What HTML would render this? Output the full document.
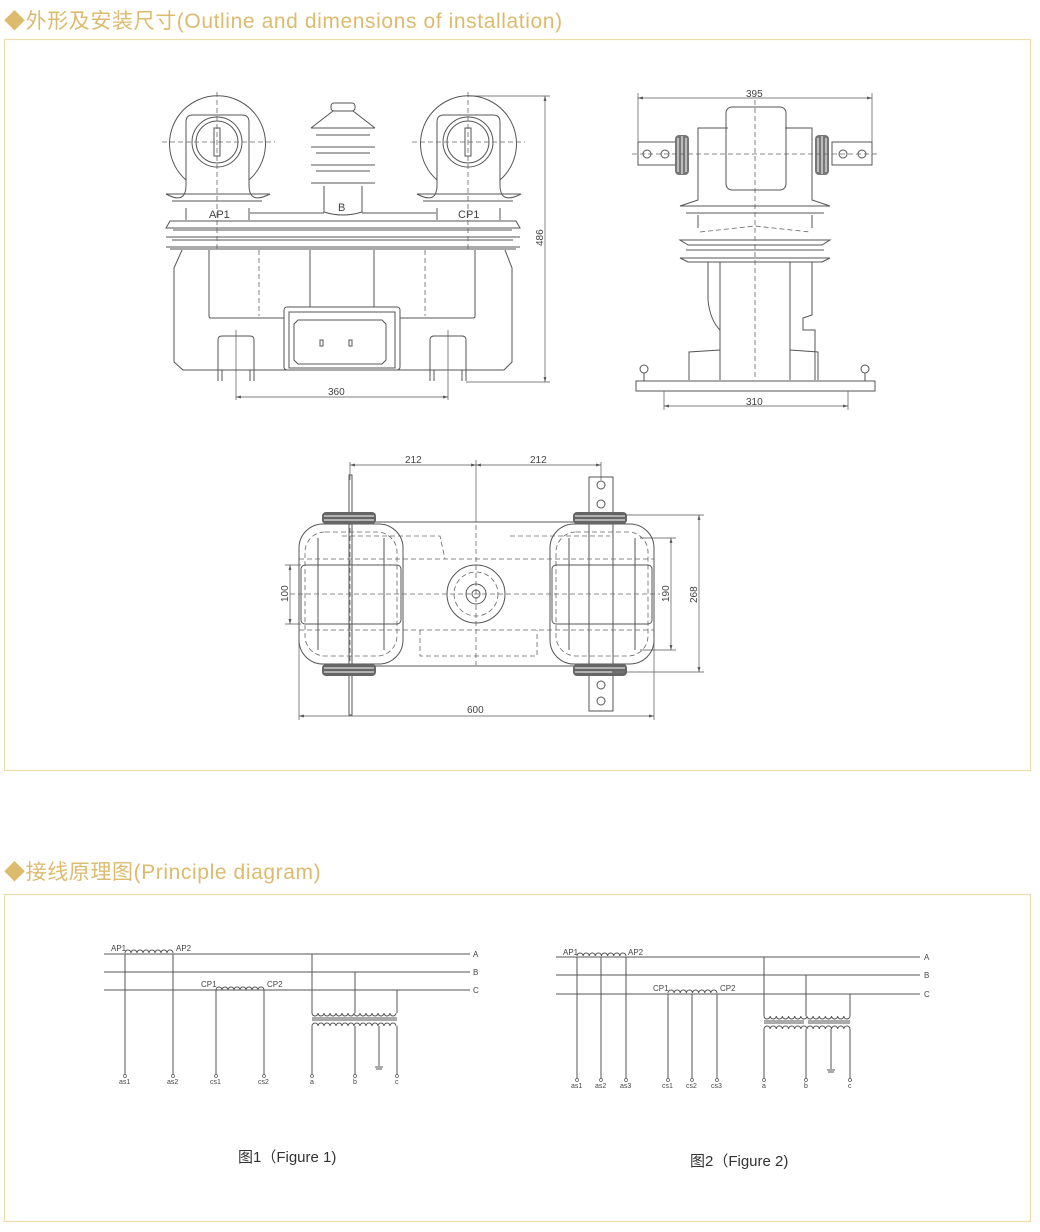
<!DOCTYPE html>
<html><head><meta charset="utf-8"><style>
html,body{margin:0;padding:0;background:#fff;width:1040px;height:1232px;overflow:hidden}
svg{display:block}
.g{fill:none;stroke:#555;stroke-width:1}
.d{fill:none;stroke:#666;stroke-width:.8;stroke-dasharray:5 3}
.dm{fill:none;stroke:#555;stroke-width:.7}
.t{font-family:"Liberation Sans",sans-serif;fill:#444}
.h{font-family:"Liberation Sans","Noto Sans CJK SC",sans-serif;fill:#dcbb6e;font-size:21px;letter-spacing:0.6px}
</style></head><body>
<svg width="1040" height="1232" viewBox="0 0 1040 1232" xmlns="http://www.w3.org/2000/svg">
<defs>
<marker id="ar" viewBox="0 0 10 10" refX="10" refY="5" markerWidth="7" markerHeight="7" orient="auto-start-reverse"><path d="M0,2 L10,5 L0,8z" fill="#555"/></marker>
</defs>
<!-- headers -->
<text x="4" y="28" class="h">◆外形及安装尺寸(Outline and dimensions of installation)</text>
<rect x="4.5" y="39.5" width="1026" height="731" fill="none" stroke="#efdcaa" stroke-width="1.2"/>
<text x="4" y="879" class="h">◆接线原理图(Principle diagram)</text>
<rect x="4.5" y="894.5" width="1026" height="327" fill="none" stroke="#efdcaa" stroke-width="1.2"/>

<!-- ===== FRONT VIEW ===== -->
<g>
<path class="g" d="M186 186 L186 122 Q186 115 193 115 L242 115 Q249 115 249 122 L249 186"/>
<path class="g" d="M186 180 A48 48 0 1 1 249 180"/>
<circle class="g" cx="217" cy="142" r="25"/><circle class="g" cx="217" cy="142" r="21"/>
<rect class="g" x="214" y="128" width="6" height="28"/>
<path class="g" d="M186 185 Q186 205 166 194 L270 194 Q249 205 249 185"/>
<path class="g" d="M172 201 L262 201 M186 208 L186 220 M249 208 L249 220"/>
<path class="g" d="M437 186 L437 122 Q437 115 444 115 L493 115 Q500 115 500 122 L500 186"/>
<path class="g" d="M437 180 A48 48 0 1 1 500 180"/>
<circle class="g" cx="468" cy="142" r="25"/><circle class="g" cx="468" cy="142" r="21"/>
<rect class="g" x="465" y="128" width="6" height="28"/>
<path class="g" d="M437 185 Q437 205 417 194 L521 194 Q500 205 500 185"/>
<path class="g" d="M423 201 L513 201 M437 208 L437 220 M500 208 L500 220"/>
<rect class="g" x="331" y="103" width="24" height="8" rx="3"/>
<path class="g" d="M311 128 L375 128 M316 135 L370 135 M311 147 L375 147 M316 153 L370 153 M311 165 L375 165 M316 171 L370 171 M311 183 L375 183"/>
<path class="g" d="M333 111 L311 128 M353 111 L375 128 M324 186 L324 212 Q343 218 362 212 L362 186"/>
<path class="g" d="M250 213 L324 213 M362 213 L436 213"/>
<text x="338" y="211" class="t" font-size="11">B</text>
<text x="209" y="218" class="t" font-size="11">AP1</text>
<text x="458" y="218" class="t" font-size="11">CP1</text>
<path class="g" d="M170 221 L516 221 L520 228 L166 228 Z"/>
<path class="g" d="M173 230 L512 230 M166 237 L520 237 M172 240 L513 240 M166 247 L520 247 M170 249 L516 249"/>
<path class="g" d="M182 250 L174 268 L174 362 L183 370 L504 370 L512 362 L512 268 L505 250"/>
<path class="g" d="M209 250 L209 316 Q209 318 211 318 L284 318 M400 318 L473 318 Q475 318 475 316 L475 250"/>
<path class="g" d="M310 250 L310 307 M374 250 L374 307"/>
<path class="d" d="M259 250 L259 316 M425 250 L425 316 M217 92 L217 250 M468 92 L468 250 M162 142 L275 142 M412 142 L525 142"/>
<rect class="g" x="284" y="307" width="116" height="63" rx="3"/>
<rect class="g" x="289" y="312" width="106" height="56"/>
<path class="g" d="M298 320 L382 320 L386 324 L386 360 L382 364 L298 364 L294 360 L294 324 Z"/>
<rect class="g" x="320" y="340" width="3" height="6"/><rect class="g" x="349" y="340" width="3" height="6"/>
<path class="g" d="M218 381 L218 340 Q218 336 222 336 L250 336 Q254 336 254 340 L254 381 M222 370 L222 381 M250 370 L250 381"/>
<path class="g" d="M430 381 L430 340 Q430 336 434 336 L462 336 Q466 336 466 340 L466 381 M434 370 L434 381 M462 370 L462 381"/>
<path class="dm" d="M236 330 L236 400 M448 330 L448 400"/>
<line class="dm" x1="236" y1="397" x2="448" y2="397" marker-start="url(#ar)" marker-end="url(#ar)"/>
<text x="328" y="395" class="t" font-size="10">360</text>
<path class="dm" d="M468 96 L550 96 M466 382 L550 382"/>
<line class="dm" x1="545" y1="96" x2="545" y2="382" marker-start="url(#ar)" marker-end="url(#ar)"/>
<text x="0" y="0" class="t" font-size="10" transform="translate(543,246) rotate(-90)">486</text>
</g>

<!-- ===== SIDE VIEW ===== -->
<g>
<path class="dm" d="M638 93 L638 165 M872 93 L872 165"/>
<line class="dm" x1="638" y1="98" x2="872" y2="98" marker-start="url(#ar)" marker-end="url(#ar)"/>
<text x="746" y="97" class="t" font-size="10">395</text>
<rect class="g" x="638" y="142" width="40" height="23"/><rect class="g" x="832" y="142" width="40" height="23"/>
<circle class="g" cx="647" cy="154" r="4"/><circle class="g" cx="665" cy="154" r="4"/>
<circle class="g" cx="843" cy="154" r="4"/><circle class="g" cx="862" cy="154" r="4"/>
<g fill="#777"><rect x="675" y="135" width="14" height="40" rx="4"/><rect x="815" y="135" width="14" height="40" rx="4"/></g>
<g stroke="#fff" stroke-width="1"><path d="M678 138 L678 172 M682 136 L682 174 M686 138 L686 172 M818 138 L818 172 M822 136 L822 174 M826 138 L826 172"/></g>
<path class="g" d="M698 175 L698 128 L728 128 M785 128 L812 128 L812 175"/>
<rect class="g" x="726" y="107" width="60" height="83" rx="6"/>
<path class="g" d="M698 175 L698 200 L680 206 L830 206 L812 200 L812 175"/>
<path class="g" d="M686 213 L824 213 M698 215 L698 228 M812 215 L812 228 M680 240 L830 240 L822 245 L688 245 Z M686 250 L824 250 M680 258 L830 258 L822 262 L688 262 Z"/>
<path class="d" d="M700 232 L755 226 L810 232"/>
<path class="g" d="M708 262 L708 300 Q710 320 720 330 L720 380 M790 262 L790 380 M720 262 L720 380 M812 262 L812 315 L803 318 L803 330 L815 330 L815 380 M720 350 L689 352 L689 380 M790 350 L818 352 L818 380"/>
<rect class="g" x="636" y="381" width="239" height="10"/>
<circle class="g" cx="644" cy="369" r="4"/><circle class="g" cx="865" cy="369" r="4"/>
<path class="g" d="M644 373 L644 381 M865 373 L865 381"/>
<path class="d" d="M755 100 L755 380 M632 154 L878 154"/>
<path class="dm" d="M664 391 L664 410 M848 391 L848 410"/>
<line class="dm" x1="664" y1="406" x2="848" y2="406" marker-start="url(#ar)" marker-end="url(#ar)"/>
<text x="746" y="405" class="t" font-size="10">310</text>
</g>

<!-- ===== TOP VIEW ===== -->
<g>
<path class="dm" d="M350 462 L350 480 M601 462 L601 480 M476 460 L476 522"/>
<line class="dm" x1="350" y1="465" x2="476" y2="465" marker-start="url(#ar)" marker-end="url(#ar)"/>
<line class="dm" x1="476" y1="465" x2="601" y2="465" marker-start="url(#ar)" marker-end="url(#ar)"/>
<text x="405" y="463" class="t" font-size="10">212</text><text x="530" y="463" class="t" font-size="10">212</text>
<rect class="g" x="349" y="475" width="3" height="240"/>
<rect class="g" x="589" y="477" width="24" height="234"/>
<circle class="g" cx="601" cy="485" r="4"/><circle class="g" cx="601" cy="504" r="4"/>
<circle class="g" cx="601" cy="685" r="4"/><circle class="g" cx="601" cy="701" r="4"/>
<path class="g" d="M340 522 L612 522 M340 666 L612 666"/>
<rect class="g" x="299" y="524" width="104" height="140" rx="24"/>
<rect class="g" x="550" y="524" width="104" height="140" rx="24"/>
<rect class="d" x="305" y="532" width="92" height="124" rx="20"/>
<rect class="d" x="556" y="532" width="92" height="124" rx="20"/>
<rect class="g" x="301" y="565" width="100" height="59" rx="4"/>
<rect class="g" x="552" y="565" width="100" height="59" rx="4"/>
<path class="g" d="M318 538 L318 650 M384 538 L384 650 M569 538 L569 650 M635 538 L635 650"/>
<path class="d" d="M299 559 L654 559 M299 630 L654 630 M342 536 L440 536 L445 559 M510 536 L610 536 M420 630 L420 656 L537 656 L537 630 M290 594 L660 594 M476 525 L476 665 M350 520 L350 670"/>
<g fill="#666"><rect x="322" y="512" width="54" height="12" rx="4"/><rect x="322" y="664" width="54" height="12" rx="4"/><rect x="573" y="512" width="54" height="12" rx="4"/><rect x="573" y="664" width="54" height="12" rx="4"/></g>
<g stroke="#fff" stroke-width="1"><path d="M324 516 L374 516 M324 520 L374 520 M324 668 L374 668 M324 672 L374 672 M575 516 L625 516 M575 520 L625 520 M575 668 L625 668 M575 672 L625 672"/></g>
<circle class="g" cx="476" cy="594" r="29"/><circle class="d" cx="476" cy="594" r="22"/>
<circle class="g" cx="476" cy="594" r="10"/><circle class="g" cx="476" cy="594" r="4"/>
<path class="dm" d="M285 565 L301 565 M285 624 L301 624"/>
<line class="dm" x1="290" y1="565" x2="290" y2="624" marker-start="url(#ar)" marker-end="url(#ar)"/>
<text class="t" font-size="10" transform="translate(288,602) rotate(-90)">100</text>
<path class="dm" d="M640 538 L676 538 M640 650 L676 650 M612 515 L704 515 M612 672 L704 672"/>
<line class="dm" x1="671" y1="538" x2="671" y2="650" marker-start="url(#ar)" marker-end="url(#ar)"/>
<line class="dm" x1="699" y1="515" x2="699" y2="672" marker-start="url(#ar)" marker-end="url(#ar)"/>
<text class="t" font-size="10" transform="translate(669,602) rotate(-90)">190</text>
<text class="t" font-size="10" transform="translate(697,603) rotate(-90)">268</text>
<path class="dm" d="M299 600 L299 720 M654 600 L654 720"/>
<line class="dm" x1="299" y1="716" x2="654" y2="716" marker-start="url(#ar)" marker-end="url(#ar)"/>
<text x="467" y="713" class="t" font-size="10">600</text>
</g>

<!-- ===== FIGURE 1 ===== -->
<g class="t" font-size="8">
<path class="g" stroke="#666" d="M104 954 L470 954 M104 972 L470 972 M104 990 L470 990"/>
<text x="473" y="957">A</text><text x="473" y="975">B</text><text x="473" y="993">C</text>
<path class="g" d="M125 954 L125 1075 M173 954 L173 1075 M216 990 L216 1075 M264 990 L264 1075"/>
<path class="g" d="M125 953 a3 3 0 0 1 6 0 a3 3 0 0 1 6 0 a3 3 0 0 1 6 0 a3 3 0 0 1 6 0 a3 3 0 0 1 6 0 a3 3 0 0 1 6 0 a3 3 0 0 1 6 0 a3 3 0 0 1 6 0"/>
<path class="g" d="M216 990 a3 3 0 0 1 6 0 a3 3 0 0 1 6 0 a3 3 0 0 1 6 0 a3 3 0 0 1 6 0 a3 3 0 0 1 6 0 a3 3 0 0 1 6 0 a3 3 0 0 1 6 0 a3 3 0 0 1 6 0"/>
<text x="111" y="951">AP1</text><text x="176" y="951">AP2</text><text x="201" y="987">CP1</text><text x="267" y="987">CP2</text>
<path class="g" d="M312 954 L312 1013 M355 972 L355 1013 M397 990 L397 1013"/>
<path class="g" d="M312 1013 a3 3 0 0 0 6 0 a3 3 0 0 0 6 0 a3 3 0 0 0 6 0 a3 3 0 0 0 6 0 a3 3 0 0 0 6 0 a3 3 0 0 0 6 0 a3 3 0 0 0 6 0 a3 3 0 0 0 6 0 a3 3 0 0 0 6 0 a3 3 0 0 0 6 0 a3 3 0 0 0 6 0 a3 3 0 0 0 6 0 a3 3 0 0 0 6 0 a3 3 0 0 0 6 0"/>
<path class="g" d="M312 1018 L397 1018 M312 1020 L397 1020"/>
<path class="g" d="M312 1026 a3 3 0 0 1 6 0 a3 3 0 0 1 6 0 a3 3 0 0 1 6 0 a3 3 0 0 1 6 0 a3 3 0 0 1 6 0 a3 3 0 0 1 6 0 a3 3 0 0 1 6 0 a3 3 0 0 1 6 0 a3 3 0 0 1 6 0 a3 3 0 0 1 6 0 a3 3 0 0 1 6 0 a3 3 0 0 1 6 0 a3 3 0 0 1 6 0 a3 3 0 0 1 6 0"/>
<path class="g" d="M312 1026 L312 1075 M355 1026 L355 1075 M397 1026 L397 1075 M379 1026 L379 1066 M375 1067 L383 1067 M376 1069 L382 1069"/>
<g fill="#fff" stroke="#555" stroke-width=".7"><circle cx="125" cy="1076" r="1.5"/><circle cx="173" cy="1076" r="1.5"/><circle cx="216" cy="1076" r="1.5"/><circle cx="264" cy="1076" r="1.5"/><circle cx="312" cy="1076" r="1.5"/><circle cx="355" cy="1076" r="1.5"/><circle cx="397" cy="1076" r="1.5"/></g>
<g font-size="7"><text x="119" y="1084">as1</text><text x="167" y="1084">as2</text><text x="210" y="1084">cs1</text><text x="258" y="1084">cs2</text><text x="310" y="1084">a</text><text x="353" y="1084">b</text><text x="395" y="1084">c</text></g>
</g>

<!-- ===== FIGURE 2 ===== -->
<g class="t" font-size="8">
<path class="g" stroke="#666" d="M556 957 L920 957 M556 975 L920 975 M556 994 L920 994"/>
<text x="924" y="960">A</text><text x="924" y="978">B</text><text x="924" y="997">C</text>
<path class="g" d="M577 957 L577 1079 M601 957 L601 1079 M626 957 L626 1079 M668 994 L668 1079 M692 994 L692 1079 M717 994 L717 1079"/>
<path class="g" d="M577 956 a3.06 3 0 0 1 6.12 0 a3.06 3 0 0 1 6.12 0 a3.06 3 0 0 1 6.12 0 a3.06 3 0 0 1 6.12 0 a3.06 3 0 0 1 6.12 0 a3.06 3 0 0 1 6.12 0 a3.06 3 0 0 1 6.12 0 a3.06 3 0 0 1 6.12 0"/>
<path class="g" d="M668 993 a3.06 3 0 0 1 6.12 0 a3.06 3 0 0 1 6.12 0 a3.06 3 0 0 1 6.12 0 a3.06 3 0 0 1 6.12 0 a3.06 3 0 0 1 6.12 0 a3.06 3 0 0 1 6.12 0 a3.06 3 0 0 1 6.12 0 a3.06 3 0 0 1 6.12 0"/>
<text x="563" y="955">AP1</text><text x="628" y="955">AP2</text><text x="653" y="991">CP1</text><text x="720" y="991">CP2</text>
<path class="g" d="M764 957 L764 1016 M806 975 L806 1016 M850 994 L850 1016"/>
<path class="g" d="M764 1016 a3.07 3 0 0 0 6.14 0 a3.07 3 0 0 0 6.14 0 a3.07 3 0 0 0 6.14 0 a3.07 3 0 0 0 6.14 0 a3.07 3 0 0 0 6.14 0 a3.07 3 0 0 0 6.14 0 a3.07 3 0 0 0 6.14 0 a3.07 3 0 0 0 6.14 0 a3.07 3 0 0 0 6.14 0 a3.07 3 0 0 0 6.14 0 a3.07 3 0 0 0 6.14 0 a3.07 3 0 0 0 6.14 0 a3.07 3 0 0 0 6.14 0 a3.07 3 0 0 0 6.14 0"/>
<path class="g" d="M764 1021 L804 1021 M764 1023 L804 1023 M808 1021 L850 1021 M808 1023 L850 1023"/>
<path class="g" d="M764 1029 a3.07 3 0 0 1 6.14 0 a3.07 3 0 0 1 6.14 0 a3.07 3 0 0 1 6.14 0 a3.07 3 0 0 1 6.14 0 a3.07 3 0 0 1 6.14 0 a3.07 3 0 0 1 6.14 0 a3.07 3 0 0 1 6.14 0 a3.07 3 0 0 1 6.14 0 a3.07 3 0 0 1 6.14 0 a3.07 3 0 0 1 6.14 0 a3.07 3 0 0 1 6.14 0 a3.07 3 0 0 1 6.14 0 a3.07 3 0 0 1 6.14 0 a3.07 3 0 0 1 6.14 0"/>
<path class="g" d="M764 1029 L764 1079 M806 1029 L806 1079 M850 1029 L850 1079 M831 1029 L831 1069 M827 1070 L835 1070 M828 1072 L834 1072"/>
<g fill="#fff" stroke="#555" stroke-width=".7"><circle cx="577" cy="1080" r="1.5"/><circle cx="601" cy="1080" r="1.5"/><circle cx="626" cy="1080" r="1.5"/><circle cx="668" cy="1080" r="1.5"/><circle cx="692" cy="1080" r="1.5"/><circle cx="717" cy="1080" r="1.5"/><circle cx="764" cy="1080" r="1.5"/><circle cx="806" cy="1080" r="1.5"/><circle cx="850" cy="1080" r="1.5"/></g>
<g font-size="7"><text x="571" y="1088">as1</text><text x="595" y="1088">as2</text><text x="620" y="1088">as3</text><text x="662" y="1088">cs1</text><text x="686" y="1088">cs2</text><text x="711" y="1088">cs3</text><text x="762" y="1088">a</text><text x="804" y="1088">b</text><text x="848" y="1088">c</text></g>
</g>

<text x="238" y="1162" font-family="'Liberation Sans','Noto Sans CJK SC',sans-serif" font-size="15" fill="#333">图1（Figure 1)</text>
<text x="690" y="1166" font-family="'Liberation Sans','Noto Sans CJK SC',sans-serif" font-size="15" fill="#333">图2（Figure 2)</text>
</svg>
</body></html>
